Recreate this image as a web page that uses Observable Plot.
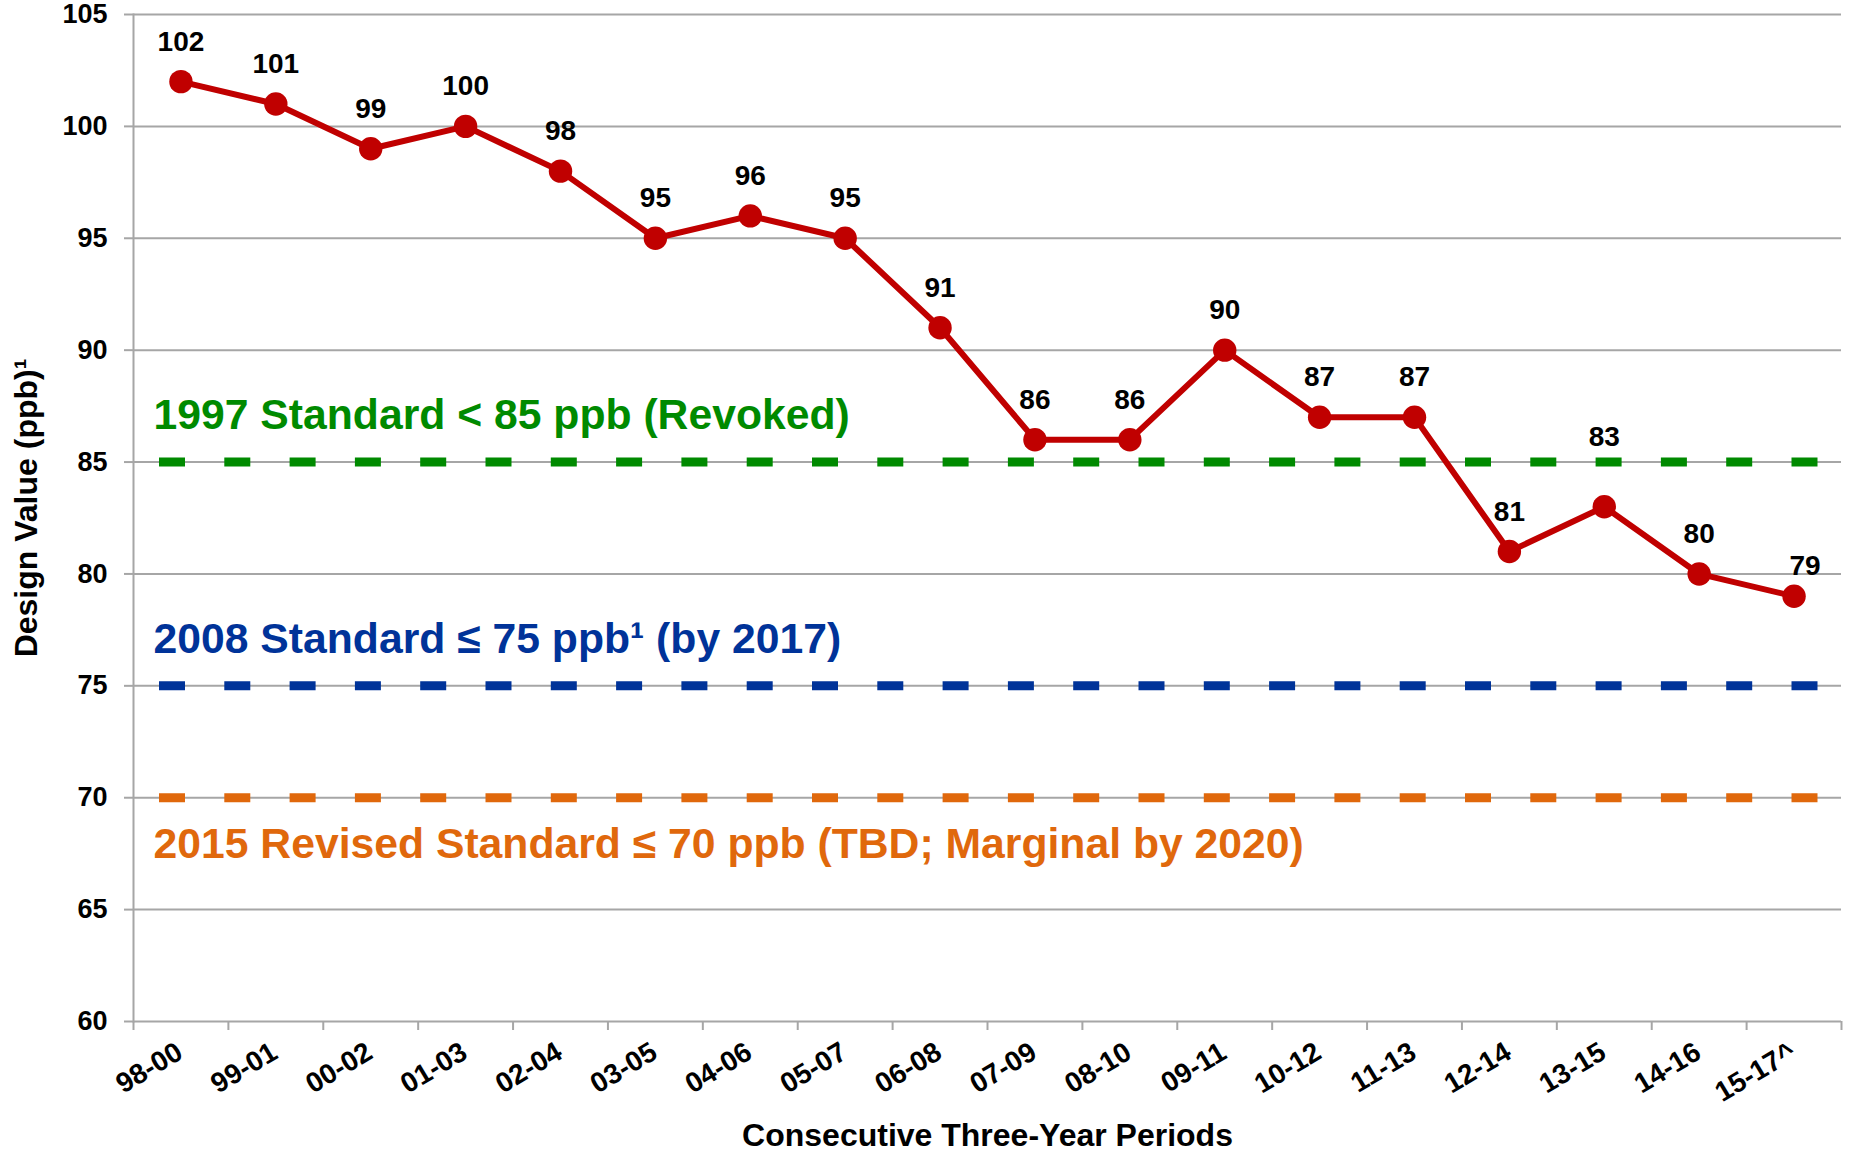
<!DOCTYPE html>
<html>
<head>
<meta charset="utf-8">
<script src="https://cdn.jsdelivr.net/npm/d3@7"></script>
<script src="https://cdn.jsdelivr.net/npm/@observablehq/plot@0.6"></script>
<style>
  html, body { margin: 0; padding: 0; background: #ffffff; }
  #chart svg { display: block; }
</style>
</head>
<body>
<div id="chart"></div>
<script>
// ---- data ----
const periods = ["98-00","99-01","00-02","01-03","02-04","03-05","04-06","05-07","06-08",
                 "07-09","08-10","09-11","10-12","11-13","12-14","13-15","14-16","15-17^"];
const designValues = [102,101,99,100,98,95,96,95,91,86,86,90,87,87,81,83,80,79];
const yTicks = [60,65,70,75,80,85,90,95,100,105];
const standardValues = [85, 75, 70];
const standardLabels = [
  "1997 Standard < 85 ppb (Revoked)",
  "2008 Standard \u2264 75 ppb\u00B9 (by 2017)",
  "2015 Revised Standard \u2264 70 ppb (TBD; Marginal by 2020)"
];
const standardColors = ["#008a00", "#003399", "#e0680c"];
const xTitle = "Consecutive Three-Year Periods";
const yTitle = "Design Value (ppb)\u00B9";

// ---- tables built from the arrays ----
const rows = periods.map((p, i) => ({i, period: p, value: designValues[i]}));
const standards = standardValues.map((v, k) => ({value: v, label: standardLabels[k], color: standardColors[k]}));
const bandEdges = d3.range(-0.5, periods.length, 1);

const gray = "#a6a6a6";
const red = "#c00000";
const special = new Set(["13-15", "15-17^"]);

const chart = Plot.plot({
  width: 1849,
  height: 1151,
  marginLeft: 133,
  marginRight: 8,
  marginTop: 14,
  marginBottom: 130,
  x: {type: "linear", domain: [-0.5, periods.length - 0.5], axis: null},
  y: {domain: [60, 105], axis: null},
  color: {type: "identity"},
  style: {fontFamily: "'Liberation Sans', Arial, sans-serif", fontWeight: "bold", background: "#ffffff", color: "#000000"},
  marks: [
    Plot.gridY(yTicks, {stroke: gray, strokeOpacity: 1, strokeWidth: 2}),
    Plot.frame({anchor: "left", stroke: gray, strokeWidth: 2}),
    Plot.axisY(yTicks, {tickSize: 9, tickPadding: 17, fontSize: 27, stroke: gray, strokeWidth: 2, label: null}),
    Plot.axisX(bandEdges, {tickSize: 9, tickFormat: () => "", stroke: gray, strokeWidth: 2, label: null}),
    Plot.axisX(rows.map(d => d.i), {tickSize: 0, tickPadding: 28, dx: -1, tickRotate: -31, fontSize: 28,
      tickFormat: i => periods[i], label: null}),
    Plot.ruleY(standards, {y: "value", stroke: "color", strokeWidth: 9, strokeDasharray: "26,39.3",
      insetLeft: 26, insetRight: 23}),
    Plot.text(standards.filter(d => d.value !== 70), {y: "value", text: "label", fill: "color",
      frameAnchor: "left", textAnchor: "start", dx: 20, dy: -47, fontSize: 42.7}),
    Plot.text(standards.filter(d => d.value === 70), {y: "value", text: "label", fill: "color",
      frameAnchor: "left", textAnchor: "start", dx: 20, dy: 47, fontSize: 42.7}),
    Plot.line(rows, {x: "i", y: "value", stroke: red, strokeWidth: 6}),
    Plot.dot(rows, {x: "i", y: "value", r: 11.7, fill: red, stroke: "none"}),
    Plot.text(rows.filter(d => !special.has(d.period)), {x: "i", y: "value", text: d => String(d.value),
      dy: -40, fontSize: 28, fill: "#000"}),
    Plot.text(rows.filter(d => d.period === "13-15"), {x: "i", y: "value", text: d => String(d.value),
      dy: -70, fontSize: 28, fill: "#000"}),
    Plot.text(rows.filter(d => d.period === "15-17^"), {x: "i", y: "value", text: d => String(d.value),
      dy: -30, dx: 11, fontSize: 28, fill: "#000"}),
    Plot.text([xTitle], {text: d => d, frameAnchor: "bottom", dy: 124, fontSize: 32, fill: "#000"}),
    Plot.text([yTitle], {text: d => d, frameAnchor: "left", textAnchor: "middle", rotate: -90,
      dx: -107, dy: -10, fontSize: 32, fill: "#000"})
  ]
});
document.getElementById("chart").appendChild(chart);
</script>
</body>
</html>
